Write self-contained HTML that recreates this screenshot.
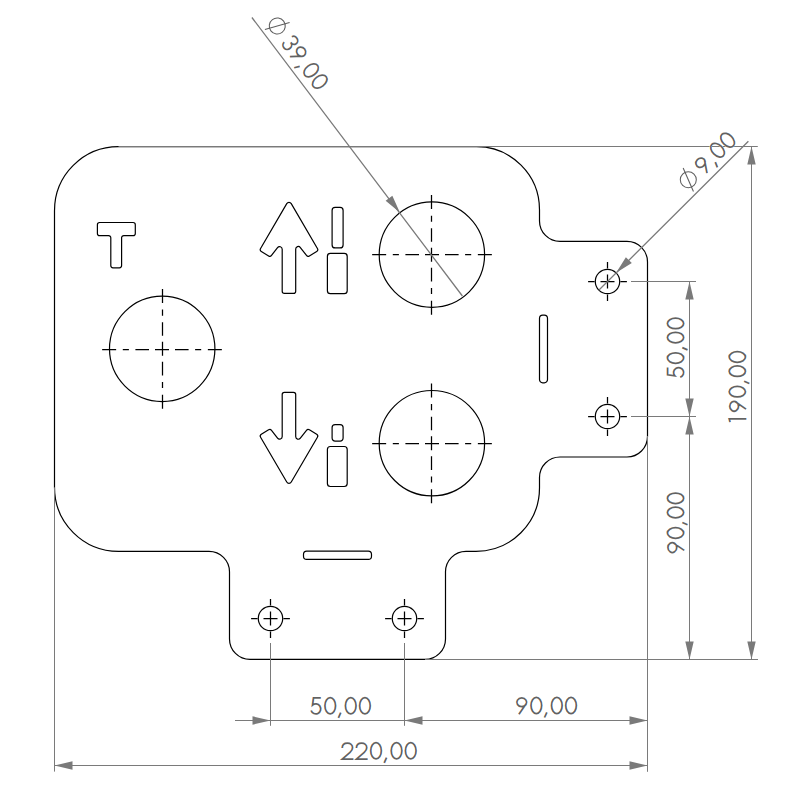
<!DOCTYPE html>
<html><head><meta charset="utf-8"><style>
html,body{margin:0;padding:0;background:#fff;}
body{width:800px;height:807px;overflow:hidden;font-family:"Liberation Sans",sans-serif;}
svg{display:block;}
</style></head><body>
<svg width="800" height="807" viewBox="0 0 800 807">
<rect width="800" height="807" fill="#fff"/>
<path d="M118.5,146.7 H476.5 A63,63 0 0 1 539.5,209.7 V220.9 A20.5,20.5 0 0 0 560,241.4 H627 A20.5,20.5 0 0 1 647.5,261.9 V436.5 A20.5,20.5 0 0 1 627,457.0 H560 A20.5,20.5 0 0 0 539.5,477.5 V487.85 A63.5,63.5 0 0 1 476,551.35 H466 A20.5,20.5 0 0 0 445.5,571.85 V638.9 A20.5,20.5 0 0 1 425,659.4 H250 A20.5,20.5 0 0 1 229.5,638.9 V571.85 A20.5,20.5 0 0 0 209,551.35 H118.5 A64,64 0 0 1 54.5,487.35 V210.7 A64,64 0 0 1 118.5,146.7 Z" fill="none" stroke="#000" stroke-width="1.2"/>
<path d="M97.40,224.70 A2.20,2.20 0 0 1 99.60,222.50 L133.10,222.50 A2.20,2.20 0 0 1 135.30,224.70 L135.30,233.40 A2.20,2.20 0 0 1 133.10,235.60 L123.80,235.60 A2.20,2.20 0 0 0 121.60,237.80 L121.60,265.60 A2.20,2.20 0 0 1 119.40,267.80 L113.00,267.80 A2.20,2.20 0 0 1 110.80,265.60 L110.80,237.80 A2.20,2.20 0 0 0 108.60,235.60 L99.60,235.60 A2.20,2.20 0 0 1 97.40,233.40 Z" fill="none" stroke="#000" stroke-width="1.2"/>
<path d="M286.75,203.64 A2.60,2.60 0 0 1 291.25,203.64 L317.42,248.45 A2.20,2.20 0 0 1 316.68,251.43 L309.39,255.95 A2.20,2.20 0 0 1 306.49,255.43 L300.36,247.51 A2.60,2.60 0 0 0 295.70,249.11 L295.70,291.20 A2.20,2.20 0 0 1 293.50,293.40 L284.40,293.40 A2.20,2.20 0 0 1 282.20,291.20 L282.20,249.16 A2.60,2.60 0 0 0 277.54,247.57 L271.51,255.42 A2.20,2.20 0 0 1 268.61,255.95 L261.32,251.43 A2.20,2.20 0 0 1 260.58,248.45 Z" fill="none" stroke="#000" stroke-width="1.2"/>
<path d="M260.58,437.25 A2.20,2.20 0 0 1 261.32,434.27 L268.61,429.75 A2.20,2.20 0 0 1 271.51,430.28 L277.54,438.13 A2.60,2.60 0 0 0 282.20,436.54 L282.20,394.50 A2.20,2.20 0 0 1 284.40,392.30 L293.50,392.30 A2.20,2.20 0 0 1 295.70,394.50 L295.70,436.59 A2.60,2.60 0 0 0 300.36,438.19 L306.49,430.27 A2.20,2.20 0 0 1 309.39,429.75 L316.68,434.27 A2.20,2.20 0 0 1 317.42,437.25 L291.25,482.06 A2.60,2.60 0 0 1 286.75,482.06 Z" fill="none" stroke="#000" stroke-width="1.2"/>
<path d="M332.10,210.40 A3.00,3.00 0 0 1 335.10,207.40 L340.10,207.40 A3.00,3.00 0 0 1 343.10,210.40 L343.10,244.90 A3.00,3.00 0 0 1 340.10,247.90 L335.10,247.90 A3.00,3.00 0 0 1 332.10,244.90 Z" fill="none" stroke="#000" stroke-width="1.2"/>
<path d="M327.40,256.40 A3.00,3.00 0 0 1 330.40,253.40 L344.20,253.40 A3.00,3.00 0 0 1 347.20,256.40 L347.20,290.70 A3.00,3.00 0 0 1 344.20,293.70 L330.40,293.70 A3.00,3.00 0 0 1 327.40,290.70 Z" fill="none" stroke="#000" stroke-width="1.2"/>
<path d="M332.10,427.60 A3.00,3.00 0 0 1 335.10,424.60 L340.10,424.60 A3.00,3.00 0 0 1 343.10,427.60 L343.10,438.10 A3.00,3.00 0 0 1 340.10,441.10 L335.10,441.10 A3.00,3.00 0 0 1 332.10,438.10 Z" fill="none" stroke="#000" stroke-width="1.2"/>
<path d="M327.40,449.50 A3.00,3.00 0 0 1 330.40,446.50 L344.20,446.50 A3.00,3.00 0 0 1 347.20,449.50 L347.20,483.50 A3.00,3.00 0 0 1 344.20,486.50 L330.40,486.50 A3.00,3.00 0 0 1 327.40,483.50 Z" fill="none" stroke="#000" stroke-width="1.2"/>
<path d="M539.50,318.40 A3.20,3.20 0 0 1 542.70,315.20 L544.30,315.20 A3.20,3.20 0 0 1 547.50,318.40 L547.50,379.60 A3.20,3.20 0 0 1 544.30,382.80 L542.70,382.80 A3.20,3.20 0 0 1 539.50,379.60 Z" fill="none" stroke="#000" stroke-width="1.2"/>
<path d="M303.50,554.40 A3.20,3.20 0 0 1 306.70,551.20 L368.30,551.20 A3.20,3.20 0 0 1 371.50,554.40 L371.50,556.20 A3.20,3.20 0 0 1 368.30,559.40 L306.70,559.40 A3.20,3.20 0 0 1 303.50,556.20 Z" fill="none" stroke="#000" stroke-width="1.2"/>
<circle cx="431.9" cy="254.6" r="52.7" fill="none" stroke="#000" stroke-width="1.2"/>
<path d="M425.00,254.50 H439.00 M431.50,247.85 V261.85 M445.00,254.50 H458.60 M431.50,267.85 V281.45 M465.10,254.50 H471.20 M431.50,287.95 V294.05 M477.85,254.50 H491.85 M431.50,300.70 V314.70 M405.40,254.50 H419.00 M431.50,228.25 V241.85 M392.80,254.50 H398.90 M431.50,215.65 V221.75 M372.15,254.50 H386.15 M431.50,195.00 V209.00" fill="none" stroke="#000" stroke-width="1.25"/>
<circle cx="431.9" cy="443.2" r="52.7" fill="none" stroke="#000" stroke-width="1.2"/>
<path d="M425.00,443.50 H439.00 M431.50,436.30 V450.30 M445.00,443.50 H458.60 M431.50,456.30 V469.90 M465.10,443.50 H471.20 M431.50,476.40 V482.50 M477.85,443.50 H491.85 M431.50,489.15 V503.15 M405.40,443.50 H419.00 M431.50,416.70 V430.30 M392.80,443.50 H398.90 M431.50,404.10 V410.20 M372.15,443.50 H386.15 M431.50,383.45 V397.45" fill="none" stroke="#000" stroke-width="1.25"/>
<circle cx="162.2" cy="348.85" r="52.7" fill="none" stroke="#000" stroke-width="1.2"/>
<path d="M155.00,349.50 H169.00 M162.50,341.80 V355.80 M175.00,349.50 H188.60 M162.50,361.80 V375.40 M195.10,349.50 H201.20 M162.50,381.90 V388.00 M207.85,349.50 H221.85 M162.50,394.65 V408.65 M135.40,349.50 H149.00 M162.50,322.20 V335.80 M122.80,349.50 H128.90 M162.50,309.60 V315.70 M102.15,349.50 H116.15 M162.50,288.95 V302.95" fill="none" stroke="#000" stroke-width="1.25"/>
<circle cx="607.5" cy="281.5" r="12.2" fill="none" stroke="#000" stroke-width="1.2"/>
<path d="M600.50,281.50 H614.50 M607.50,274.50 V288.50 M620.40,281.50 H626.90 M607.50,294.40 V300.90 M588.10,281.50 H594.60 M607.50,262.10 V268.60" fill="none" stroke="#000" stroke-width="1.25"/>
<circle cx="607.5" cy="416.5" r="12.2" fill="none" stroke="#000" stroke-width="1.2"/>
<path d="M600.50,416.50 H614.50 M607.50,409.50 V423.50 M620.40,416.50 H626.90 M607.50,429.40 V435.90 M588.10,416.50 H594.60 M607.50,397.10 V403.60" fill="none" stroke="#000" stroke-width="1.25"/>
<circle cx="270.5" cy="618.5" r="12.2" fill="none" stroke="#000" stroke-width="1.2"/>
<path d="M263.50,618.50 H277.50 M270.50,611.50 V625.50 M283.40,618.50 H289.90 M270.50,631.40 V637.90 M251.10,618.50 H257.60 M270.50,599.10 V605.60" fill="none" stroke="#000" stroke-width="1.25"/>
<circle cx="404.5" cy="618.5" r="12.2" fill="none" stroke="#000" stroke-width="1.2"/>
<path d="M397.50,618.50 H411.50 M404.50,611.50 V625.50 M417.40,618.50 H423.90 M404.50,631.40 V637.90 M385.10,618.50 H391.60 M404.50,599.10 V605.60" fill="none" stroke="#000" stroke-width="1.25"/>
<path d="M118.5,146.5 L757.8,146.5 M425,659.5 L758,659.5 M54.5,487.35 L54.5,771.6 M647.5,436 L647.5,771.8 M631,281.5 L696,281.5 M631,416.5 L696,416.5 M270.5,643 L270.5,725.8 M404.5,643 L404.5,725.8 M235,720.5 L647.5,720.5 M54.5,765.5 L647.5,765.5 M689.5,281.5 L689.5,659.5 M751.5,146.5 L751.5,659.5" fill="none" stroke="#7a7a7a" stroke-width="1.0"/>
<path d="M251.9,17.5 L462.4,296.0 M748.4,141.2 L599.0,290.0" fill="none" stroke="#7a7a7a" stroke-width="1.3"/>
<path d="M270.50,720.50 L252.50,724.70 L252.50,716.30 Z M404.50,720.50 L422.50,716.30 L422.50,724.70 Z M647.50,720.50 L629.50,724.70 L629.50,716.30 Z M54.50,765.50 L72.50,761.30 L72.50,769.70 Z M647.50,765.50 L629.50,769.70 L629.50,761.30 Z M689.50,281.50 L693.70,299.50 L685.30,299.50 Z M689.50,416.50 L685.30,398.50 L693.70,398.50 Z M689.50,416.50 L693.70,434.50 L685.30,434.50 Z M689.50,659.50 L685.30,641.50 L693.70,641.50 Z M751.50,146.50 L755.70,164.50 L747.30,164.50 Z M751.50,659.50 L747.30,641.50 L755.70,641.50 Z M399.87,212.60 L385.66,200.79 L392.35,195.71 Z M616.13,272.87 L625.88,257.18 L631.82,263.12 Z" fill="#7a7a7a" stroke="none"/>
<g style="isolation:isolate"><g transform="translate(0.33,0)" style="mix-blend-mode:multiply"><g transform="translate(309.00,714.80) rotate(0)" fill="none" stroke="rgb(98,255,255)" stroke-width="1.75" stroke-linecap="butt"><path transform="translate(0.00,0)" d="M11.8,-16.95 H4.45 L3.5,-9.7 A4.9,5.05 0 1 1 2.1,-4.3"/><path transform="translate(14.20,0)" d="M7,-17.1 A5.3,8.1 0 1 1 7,-0.9 A5.3,8.1 0 1 1 7,-17.1 Z"/><path transform="translate(28.40,0)" d="M3.3,-2.2 L1.0,3.0"/><path transform="translate(34.70,0)" d="M7,-17.1 A5.3,8.1 0 1 1 7,-0.9 A5.3,8.1 0 1 1 7,-17.1 Z"/><path transform="translate(48.90,0)" d="M7,-17.1 A5.3,8.1 0 1 1 7,-0.9 A5.3,8.1 0 1 1 7,-17.1 Z"/></g></g><g transform="translate(0.0,0)" style="mix-blend-mode:multiply"><g transform="translate(309.00,714.80) rotate(0)" fill="none" stroke="rgb(255,98,255)" stroke-width="1.75" stroke-linecap="butt"><path transform="translate(0.00,0)" d="M11.8,-16.95 H4.45 L3.5,-9.7 A4.9,5.05 0 1 1 2.1,-4.3"/><path transform="translate(14.20,0)" d="M7,-17.1 A5.3,8.1 0 1 1 7,-0.9 A5.3,8.1 0 1 1 7,-17.1 Z"/><path transform="translate(28.40,0)" d="M3.3,-2.2 L1.0,3.0"/><path transform="translate(34.70,0)" d="M7,-17.1 A5.3,8.1 0 1 1 7,-0.9 A5.3,8.1 0 1 1 7,-17.1 Z"/><path transform="translate(48.90,0)" d="M7,-17.1 A5.3,8.1 0 1 1 7,-0.9 A5.3,8.1 0 1 1 7,-17.1 Z"/></g></g><g transform="translate(-0.33,0)" style="mix-blend-mode:multiply"><g transform="translate(309.00,714.80) rotate(0)" fill="none" stroke="rgb(255,255,98)" stroke-width="1.75" stroke-linecap="butt"><path transform="translate(0.00,0)" d="M11.8,-16.95 H4.45 L3.5,-9.7 A4.9,5.05 0 1 1 2.1,-4.3"/><path transform="translate(14.20,0)" d="M7,-17.1 A5.3,8.1 0 1 1 7,-0.9 A5.3,8.1 0 1 1 7,-17.1 Z"/><path transform="translate(28.40,0)" d="M3.3,-2.2 L1.0,3.0"/><path transform="translate(34.70,0)" d="M7,-17.1 A5.3,8.1 0 1 1 7,-0.9 A5.3,8.1 0 1 1 7,-17.1 Z"/><path transform="translate(48.90,0)" d="M7,-17.1 A5.3,8.1 0 1 1 7,-0.9 A5.3,8.1 0 1 1 7,-17.1 Z"/></g></g></g>
<g style="isolation:isolate"><g transform="translate(0.33,0)" style="mix-blend-mode:multiply"><g transform="translate(515.10,714.50) rotate(0)" fill="none" stroke="rgb(98,255,255)" stroke-width="1.75" stroke-linecap="butt"><path transform="translate(0.00,0)" d="M6.6,-7.8 A4.9,4.4 0 1 1 6.61,-7.8 Z M11.35,-11.3 L3.8,-0.3"/><path transform="translate(14.20,0)" d="M7,-17.1 A5.3,8.1 0 1 1 7,-0.9 A5.3,8.1 0 1 1 7,-17.1 Z"/><path transform="translate(28.40,0)" d="M3.3,-2.2 L1.0,3.0"/><path transform="translate(34.70,0)" d="M7,-17.1 A5.3,8.1 0 1 1 7,-0.9 A5.3,8.1 0 1 1 7,-17.1 Z"/><path transform="translate(48.90,0)" d="M7,-17.1 A5.3,8.1 0 1 1 7,-0.9 A5.3,8.1 0 1 1 7,-17.1 Z"/></g></g><g transform="translate(0.0,0)" style="mix-blend-mode:multiply"><g transform="translate(515.10,714.50) rotate(0)" fill="none" stroke="rgb(255,98,255)" stroke-width="1.75" stroke-linecap="butt"><path transform="translate(0.00,0)" d="M6.6,-7.8 A4.9,4.4 0 1 1 6.61,-7.8 Z M11.35,-11.3 L3.8,-0.3"/><path transform="translate(14.20,0)" d="M7,-17.1 A5.3,8.1 0 1 1 7,-0.9 A5.3,8.1 0 1 1 7,-17.1 Z"/><path transform="translate(28.40,0)" d="M3.3,-2.2 L1.0,3.0"/><path transform="translate(34.70,0)" d="M7,-17.1 A5.3,8.1 0 1 1 7,-0.9 A5.3,8.1 0 1 1 7,-17.1 Z"/><path transform="translate(48.90,0)" d="M7,-17.1 A5.3,8.1 0 1 1 7,-0.9 A5.3,8.1 0 1 1 7,-17.1 Z"/></g></g><g transform="translate(-0.33,0)" style="mix-blend-mode:multiply"><g transform="translate(515.10,714.50) rotate(0)" fill="none" stroke="rgb(255,255,98)" stroke-width="1.75" stroke-linecap="butt"><path transform="translate(0.00,0)" d="M6.6,-7.8 A4.9,4.4 0 1 1 6.61,-7.8 Z M11.35,-11.3 L3.8,-0.3"/><path transform="translate(14.20,0)" d="M7,-17.1 A5.3,8.1 0 1 1 7,-0.9 A5.3,8.1 0 1 1 7,-17.1 Z"/><path transform="translate(28.40,0)" d="M3.3,-2.2 L1.0,3.0"/><path transform="translate(34.70,0)" d="M7,-17.1 A5.3,8.1 0 1 1 7,-0.9 A5.3,8.1 0 1 1 7,-17.1 Z"/><path transform="translate(48.90,0)" d="M7,-17.1 A5.3,8.1 0 1 1 7,-0.9 A5.3,8.1 0 1 1 7,-17.1 Z"/></g></g></g>
<g style="isolation:isolate"><g transform="translate(0.33,0)" style="mix-blend-mode:multiply"><g transform="translate(340.60,759.80) rotate(0)" fill="none" stroke="rgb(98,255,255)" stroke-width="1.75" stroke-linecap="butt"><path transform="translate(0.00,0)" d="M1.6,-11.9 C1.6,-15.0 3.9,-16.6 6.8,-16.6 C9.7,-16.6 11.9,-14.8 11.9,-12.0 C11.9,-10.2 11.0,-8.9 9.4,-7.5 L1.6,-0.6 H12.8"/><path transform="translate(14.20,0)" d="M1.6,-11.9 C1.6,-15.0 3.9,-16.6 6.8,-16.6 C9.7,-16.6 11.9,-14.8 11.9,-12.0 C11.9,-10.2 11.0,-8.9 9.4,-7.5 L1.6,-0.6 H12.8"/><path transform="translate(28.40,0)" d="M7,-17.1 A5.3,8.1 0 1 1 7,-0.9 A5.3,8.1 0 1 1 7,-17.1 Z"/><path transform="translate(42.60,0)" d="M3.3,-2.2 L1.0,3.0"/><path transform="translate(48.90,0)" d="M7,-17.1 A5.3,8.1 0 1 1 7,-0.9 A5.3,8.1 0 1 1 7,-17.1 Z"/><path transform="translate(63.10,0)" d="M7,-17.1 A5.3,8.1 0 1 1 7,-0.9 A5.3,8.1 0 1 1 7,-17.1 Z"/></g></g><g transform="translate(0.0,0)" style="mix-blend-mode:multiply"><g transform="translate(340.60,759.80) rotate(0)" fill="none" stroke="rgb(255,98,255)" stroke-width="1.75" stroke-linecap="butt"><path transform="translate(0.00,0)" d="M1.6,-11.9 C1.6,-15.0 3.9,-16.6 6.8,-16.6 C9.7,-16.6 11.9,-14.8 11.9,-12.0 C11.9,-10.2 11.0,-8.9 9.4,-7.5 L1.6,-0.6 H12.8"/><path transform="translate(14.20,0)" d="M1.6,-11.9 C1.6,-15.0 3.9,-16.6 6.8,-16.6 C9.7,-16.6 11.9,-14.8 11.9,-12.0 C11.9,-10.2 11.0,-8.9 9.4,-7.5 L1.6,-0.6 H12.8"/><path transform="translate(28.40,0)" d="M7,-17.1 A5.3,8.1 0 1 1 7,-0.9 A5.3,8.1 0 1 1 7,-17.1 Z"/><path transform="translate(42.60,0)" d="M3.3,-2.2 L1.0,3.0"/><path transform="translate(48.90,0)" d="M7,-17.1 A5.3,8.1 0 1 1 7,-0.9 A5.3,8.1 0 1 1 7,-17.1 Z"/><path transform="translate(63.10,0)" d="M7,-17.1 A5.3,8.1 0 1 1 7,-0.9 A5.3,8.1 0 1 1 7,-17.1 Z"/></g></g><g transform="translate(-0.33,0)" style="mix-blend-mode:multiply"><g transform="translate(340.60,759.80) rotate(0)" fill="none" stroke="rgb(255,255,98)" stroke-width="1.75" stroke-linecap="butt"><path transform="translate(0.00,0)" d="M1.6,-11.9 C1.6,-15.0 3.9,-16.6 6.8,-16.6 C9.7,-16.6 11.9,-14.8 11.9,-12.0 C11.9,-10.2 11.0,-8.9 9.4,-7.5 L1.6,-0.6 H12.8"/><path transform="translate(14.20,0)" d="M1.6,-11.9 C1.6,-15.0 3.9,-16.6 6.8,-16.6 C9.7,-16.6 11.9,-14.8 11.9,-12.0 C11.9,-10.2 11.0,-8.9 9.4,-7.5 L1.6,-0.6 H12.8"/><path transform="translate(28.40,0)" d="M7,-17.1 A5.3,8.1 0 1 1 7,-0.9 A5.3,8.1 0 1 1 7,-17.1 Z"/><path transform="translate(42.60,0)" d="M3.3,-2.2 L1.0,3.0"/><path transform="translate(48.90,0)" d="M7,-17.1 A5.3,8.1 0 1 1 7,-0.9 A5.3,8.1 0 1 1 7,-17.1 Z"/><path transform="translate(63.10,0)" d="M7,-17.1 A5.3,8.1 0 1 1 7,-0.9 A5.3,8.1 0 1 1 7,-17.1 Z"/></g></g></g>
<g style="isolation:isolate"><g transform="translate(0.33,0)" style="mix-blend-mode:multiply"><g transform="translate(684.50,379.30) rotate(-90)" fill="none" stroke="rgb(98,255,255)" stroke-width="1.75" stroke-linecap="butt"><path transform="translate(0.00,0)" d="M11.8,-16.95 H4.45 L3.5,-9.7 A4.9,5.05 0 1 1 2.1,-4.3"/><path transform="translate(14.20,0)" d="M7,-17.1 A5.3,8.1 0 1 1 7,-0.9 A5.3,8.1 0 1 1 7,-17.1 Z"/><path transform="translate(28.40,0)" d="M3.3,-2.2 L1.0,3.0"/><path transform="translate(34.70,0)" d="M7,-17.1 A5.3,8.1 0 1 1 7,-0.9 A5.3,8.1 0 1 1 7,-17.1 Z"/><path transform="translate(48.90,0)" d="M7,-17.1 A5.3,8.1 0 1 1 7,-0.9 A5.3,8.1 0 1 1 7,-17.1 Z"/></g></g><g transform="translate(0.0,0)" style="mix-blend-mode:multiply"><g transform="translate(684.50,379.30) rotate(-90)" fill="none" stroke="rgb(255,98,255)" stroke-width="1.75" stroke-linecap="butt"><path transform="translate(0.00,0)" d="M11.8,-16.95 H4.45 L3.5,-9.7 A4.9,5.05 0 1 1 2.1,-4.3"/><path transform="translate(14.20,0)" d="M7,-17.1 A5.3,8.1 0 1 1 7,-0.9 A5.3,8.1 0 1 1 7,-17.1 Z"/><path transform="translate(28.40,0)" d="M3.3,-2.2 L1.0,3.0"/><path transform="translate(34.70,0)" d="M7,-17.1 A5.3,8.1 0 1 1 7,-0.9 A5.3,8.1 0 1 1 7,-17.1 Z"/><path transform="translate(48.90,0)" d="M7,-17.1 A5.3,8.1 0 1 1 7,-0.9 A5.3,8.1 0 1 1 7,-17.1 Z"/></g></g><g transform="translate(-0.33,0)" style="mix-blend-mode:multiply"><g transform="translate(684.50,379.30) rotate(-90)" fill="none" stroke="rgb(255,255,98)" stroke-width="1.75" stroke-linecap="butt"><path transform="translate(0.00,0)" d="M11.8,-16.95 H4.45 L3.5,-9.7 A4.9,5.05 0 1 1 2.1,-4.3"/><path transform="translate(14.20,0)" d="M7,-17.1 A5.3,8.1 0 1 1 7,-0.9 A5.3,8.1 0 1 1 7,-17.1 Z"/><path transform="translate(28.40,0)" d="M3.3,-2.2 L1.0,3.0"/><path transform="translate(34.70,0)" d="M7,-17.1 A5.3,8.1 0 1 1 7,-0.9 A5.3,8.1 0 1 1 7,-17.1 Z"/><path transform="translate(48.90,0)" d="M7,-17.1 A5.3,8.1 0 1 1 7,-0.9 A5.3,8.1 0 1 1 7,-17.1 Z"/></g></g></g>
<g style="isolation:isolate"><g transform="translate(0.33,0)" style="mix-blend-mode:multiply"><g transform="translate(684.50,554.20) rotate(-90)" fill="none" stroke="rgb(98,255,255)" stroke-width="1.75" stroke-linecap="butt"><path transform="translate(0.00,0)" d="M6.6,-7.8 A4.9,4.4 0 1 1 6.61,-7.8 Z M11.35,-11.3 L3.8,-0.3"/><path transform="translate(14.20,0)" d="M7,-17.1 A5.3,8.1 0 1 1 7,-0.9 A5.3,8.1 0 1 1 7,-17.1 Z"/><path transform="translate(28.40,0)" d="M3.3,-2.2 L1.0,3.0"/><path transform="translate(34.70,0)" d="M7,-17.1 A5.3,8.1 0 1 1 7,-0.9 A5.3,8.1 0 1 1 7,-17.1 Z"/><path transform="translate(48.90,0)" d="M7,-17.1 A5.3,8.1 0 1 1 7,-0.9 A5.3,8.1 0 1 1 7,-17.1 Z"/></g></g><g transform="translate(0.0,0)" style="mix-blend-mode:multiply"><g transform="translate(684.50,554.20) rotate(-90)" fill="none" stroke="rgb(255,98,255)" stroke-width="1.75" stroke-linecap="butt"><path transform="translate(0.00,0)" d="M6.6,-7.8 A4.9,4.4 0 1 1 6.61,-7.8 Z M11.35,-11.3 L3.8,-0.3"/><path transform="translate(14.20,0)" d="M7,-17.1 A5.3,8.1 0 1 1 7,-0.9 A5.3,8.1 0 1 1 7,-17.1 Z"/><path transform="translate(28.40,0)" d="M3.3,-2.2 L1.0,3.0"/><path transform="translate(34.70,0)" d="M7,-17.1 A5.3,8.1 0 1 1 7,-0.9 A5.3,8.1 0 1 1 7,-17.1 Z"/><path transform="translate(48.90,0)" d="M7,-17.1 A5.3,8.1 0 1 1 7,-0.9 A5.3,8.1 0 1 1 7,-17.1 Z"/></g></g><g transform="translate(-0.33,0)" style="mix-blend-mode:multiply"><g transform="translate(684.50,554.20) rotate(-90)" fill="none" stroke="rgb(255,255,98)" stroke-width="1.75" stroke-linecap="butt"><path transform="translate(0.00,0)" d="M6.6,-7.8 A4.9,4.4 0 1 1 6.61,-7.8 Z M11.35,-11.3 L3.8,-0.3"/><path transform="translate(14.20,0)" d="M7,-17.1 A5.3,8.1 0 1 1 7,-0.9 A5.3,8.1 0 1 1 7,-17.1 Z"/><path transform="translate(28.40,0)" d="M3.3,-2.2 L1.0,3.0"/><path transform="translate(34.70,0)" d="M7,-17.1 A5.3,8.1 0 1 1 7,-0.9 A5.3,8.1 0 1 1 7,-17.1 Z"/><path transform="translate(48.90,0)" d="M7,-17.1 A5.3,8.1 0 1 1 7,-0.9 A5.3,8.1 0 1 1 7,-17.1 Z"/></g></g></g>
<g style="isolation:isolate"><g transform="translate(0.33,0)" style="mix-blend-mode:multiply"><g transform="translate(746.30,420.90) rotate(-90)" fill="none" stroke="rgb(98,255,255)" stroke-width="1.75" stroke-linecap="butt"><path transform="translate(0.00,0)" d="M-1.2,-16.3 L2.0,-17.1 V0"/><path transform="translate(8.00,0)" d="M6.6,-7.8 A4.9,4.4 0 1 1 6.61,-7.8 Z M11.35,-11.3 L3.8,-0.3"/><path transform="translate(22.20,0)" d="M7,-17.1 A5.3,8.1 0 1 1 7,-0.9 A5.3,8.1 0 1 1 7,-17.1 Z"/><path transform="translate(36.40,0)" d="M3.3,-2.2 L1.0,3.0"/><path transform="translate(42.70,0)" d="M7,-17.1 A5.3,8.1 0 1 1 7,-0.9 A5.3,8.1 0 1 1 7,-17.1 Z"/><path transform="translate(56.90,0)" d="M7,-17.1 A5.3,8.1 0 1 1 7,-0.9 A5.3,8.1 0 1 1 7,-17.1 Z"/></g></g><g transform="translate(0.0,0)" style="mix-blend-mode:multiply"><g transform="translate(746.30,420.90) rotate(-90)" fill="none" stroke="rgb(255,98,255)" stroke-width="1.75" stroke-linecap="butt"><path transform="translate(0.00,0)" d="M-1.2,-16.3 L2.0,-17.1 V0"/><path transform="translate(8.00,0)" d="M6.6,-7.8 A4.9,4.4 0 1 1 6.61,-7.8 Z M11.35,-11.3 L3.8,-0.3"/><path transform="translate(22.20,0)" d="M7,-17.1 A5.3,8.1 0 1 1 7,-0.9 A5.3,8.1 0 1 1 7,-17.1 Z"/><path transform="translate(36.40,0)" d="M3.3,-2.2 L1.0,3.0"/><path transform="translate(42.70,0)" d="M7,-17.1 A5.3,8.1 0 1 1 7,-0.9 A5.3,8.1 0 1 1 7,-17.1 Z"/><path transform="translate(56.90,0)" d="M7,-17.1 A5.3,8.1 0 1 1 7,-0.9 A5.3,8.1 0 1 1 7,-17.1 Z"/></g></g><g transform="translate(-0.33,0)" style="mix-blend-mode:multiply"><g transform="translate(746.30,420.90) rotate(-90)" fill="none" stroke="rgb(255,255,98)" stroke-width="1.75" stroke-linecap="butt"><path transform="translate(0.00,0)" d="M-1.2,-16.3 L2.0,-17.1 V0"/><path transform="translate(8.00,0)" d="M6.6,-7.8 A4.9,4.4 0 1 1 6.61,-7.8 Z M11.35,-11.3 L3.8,-0.3"/><path transform="translate(22.20,0)" d="M7,-17.1 A5.3,8.1 0 1 1 7,-0.9 A5.3,8.1 0 1 1 7,-17.1 Z"/><path transform="translate(36.40,0)" d="M3.3,-2.2 L1.0,3.0"/><path transform="translate(42.70,0)" d="M7,-17.1 A5.3,8.1 0 1 1 7,-0.9 A5.3,8.1 0 1 1 7,-17.1 Z"/><path transform="translate(56.90,0)" d="M7,-17.1 A5.3,8.1 0 1 1 7,-0.9 A5.3,8.1 0 1 1 7,-17.1 Z"/></g></g></g>
<g transform="translate(270.28,31.28) rotate(52.85)" fill="none" stroke="#5e5e5e" stroke-width="1.05"><circle cx="0" cy="-8.75" r="8.0"/><path d="M4.67,-20.7 L-4.67,3.2"/></g>
<g style="isolation:isolate"><g transform="translate(0.33,0)" style="mix-blend-mode:multiply"><g transform="translate(278.79,42.52) rotate(52.85)" fill="none" stroke="rgb(98,255,255)" stroke-width="1.75" stroke-linecap="butt"><path transform="translate(0.00,0)" d="M3.26,-13.94 A4.1,3.7 0 1 1 7.3,-9.6 M7.1,-9.6 A4.3,4.35 0 1 1 2.87,-4.5"/><path transform="translate(14.20,0)" d="M6.6,-7.8 A4.9,4.4 0 1 1 6.61,-7.8 Z M11.35,-11.3 L3.8,-0.3"/><path transform="translate(28.40,0)" d="M3.3,-2.2 L1.0,3.0"/><path transform="translate(34.70,0)" d="M7,-17.1 A5.3,8.1 0 1 1 7,-0.9 A5.3,8.1 0 1 1 7,-17.1 Z"/><path transform="translate(48.90,0)" d="M7,-17.1 A5.3,8.1 0 1 1 7,-0.9 A5.3,8.1 0 1 1 7,-17.1 Z"/></g></g><g transform="translate(0.0,0)" style="mix-blend-mode:multiply"><g transform="translate(278.79,42.52) rotate(52.85)" fill="none" stroke="rgb(255,98,255)" stroke-width="1.75" stroke-linecap="butt"><path transform="translate(0.00,0)" d="M3.26,-13.94 A4.1,3.7 0 1 1 7.3,-9.6 M7.1,-9.6 A4.3,4.35 0 1 1 2.87,-4.5"/><path transform="translate(14.20,0)" d="M6.6,-7.8 A4.9,4.4 0 1 1 6.61,-7.8 Z M11.35,-11.3 L3.8,-0.3"/><path transform="translate(28.40,0)" d="M3.3,-2.2 L1.0,3.0"/><path transform="translate(34.70,0)" d="M7,-17.1 A5.3,8.1 0 1 1 7,-0.9 A5.3,8.1 0 1 1 7,-17.1 Z"/><path transform="translate(48.90,0)" d="M7,-17.1 A5.3,8.1 0 1 1 7,-0.9 A5.3,8.1 0 1 1 7,-17.1 Z"/></g></g><g transform="translate(-0.33,0)" style="mix-blend-mode:multiply"><g transform="translate(278.79,42.52) rotate(52.85)" fill="none" stroke="rgb(255,255,98)" stroke-width="1.75" stroke-linecap="butt"><path transform="translate(0.00,0)" d="M3.26,-13.94 A4.1,3.7 0 1 1 7.3,-9.6 M7.1,-9.6 A4.3,4.35 0 1 1 2.87,-4.5"/><path transform="translate(14.20,0)" d="M6.6,-7.8 A4.9,4.4 0 1 1 6.61,-7.8 Z M11.35,-11.3 L3.8,-0.3"/><path transform="translate(28.40,0)" d="M3.3,-2.2 L1.0,3.0"/><path transform="translate(34.70,0)" d="M7,-17.1 A5.3,8.1 0 1 1 7,-0.9 A5.3,8.1 0 1 1 7,-17.1 Z"/><path transform="translate(48.90,0)" d="M7,-17.1 A5.3,8.1 0 1 1 7,-0.9 A5.3,8.1 0 1 1 7,-17.1 Z"/></g></g></g>
<g transform="translate(694.49,185.99) rotate(-45)" fill="none" stroke="#5e5e5e" stroke-width="1.05"><circle cx="0" cy="-8.75" r="8.0"/><path d="M4.67,-20.7 L-4.67,3.2"/></g>
<g style="isolation:isolate"><g transform="translate(0.33,0)" style="mix-blend-mode:multiply"><g transform="translate(704.46,176.02) rotate(-45)" fill="none" stroke="rgb(98,255,255)" stroke-width="1.75" stroke-linecap="butt"><path transform="translate(0.00,0)" d="M6.6,-7.8 A4.9,4.4 0 1 1 6.61,-7.8 Z M11.35,-11.3 L3.8,-0.3"/><path transform="translate(14.20,0)" d="M3.3,-2.2 L1.0,3.0"/><path transform="translate(20.50,0)" d="M7,-17.1 A5.3,8.1 0 1 1 7,-0.9 A5.3,8.1 0 1 1 7,-17.1 Z"/><path transform="translate(34.70,0)" d="M7,-17.1 A5.3,8.1 0 1 1 7,-0.9 A5.3,8.1 0 1 1 7,-17.1 Z"/></g></g><g transform="translate(0.0,0)" style="mix-blend-mode:multiply"><g transform="translate(704.46,176.02) rotate(-45)" fill="none" stroke="rgb(255,98,255)" stroke-width="1.75" stroke-linecap="butt"><path transform="translate(0.00,0)" d="M6.6,-7.8 A4.9,4.4 0 1 1 6.61,-7.8 Z M11.35,-11.3 L3.8,-0.3"/><path transform="translate(14.20,0)" d="M3.3,-2.2 L1.0,3.0"/><path transform="translate(20.50,0)" d="M7,-17.1 A5.3,8.1 0 1 1 7,-0.9 A5.3,8.1 0 1 1 7,-17.1 Z"/><path transform="translate(34.70,0)" d="M7,-17.1 A5.3,8.1 0 1 1 7,-0.9 A5.3,8.1 0 1 1 7,-17.1 Z"/></g></g><g transform="translate(-0.33,0)" style="mix-blend-mode:multiply"><g transform="translate(704.46,176.02) rotate(-45)" fill="none" stroke="rgb(255,255,98)" stroke-width="1.75" stroke-linecap="butt"><path transform="translate(0.00,0)" d="M6.6,-7.8 A4.9,4.4 0 1 1 6.61,-7.8 Z M11.35,-11.3 L3.8,-0.3"/><path transform="translate(14.20,0)" d="M3.3,-2.2 L1.0,3.0"/><path transform="translate(20.50,0)" d="M7,-17.1 A5.3,8.1 0 1 1 7,-0.9 A5.3,8.1 0 1 1 7,-17.1 Z"/><path transform="translate(34.70,0)" d="M7,-17.1 A5.3,8.1 0 1 1 7,-0.9 A5.3,8.1 0 1 1 7,-17.1 Z"/></g></g></g>
</svg>
</body></html>
